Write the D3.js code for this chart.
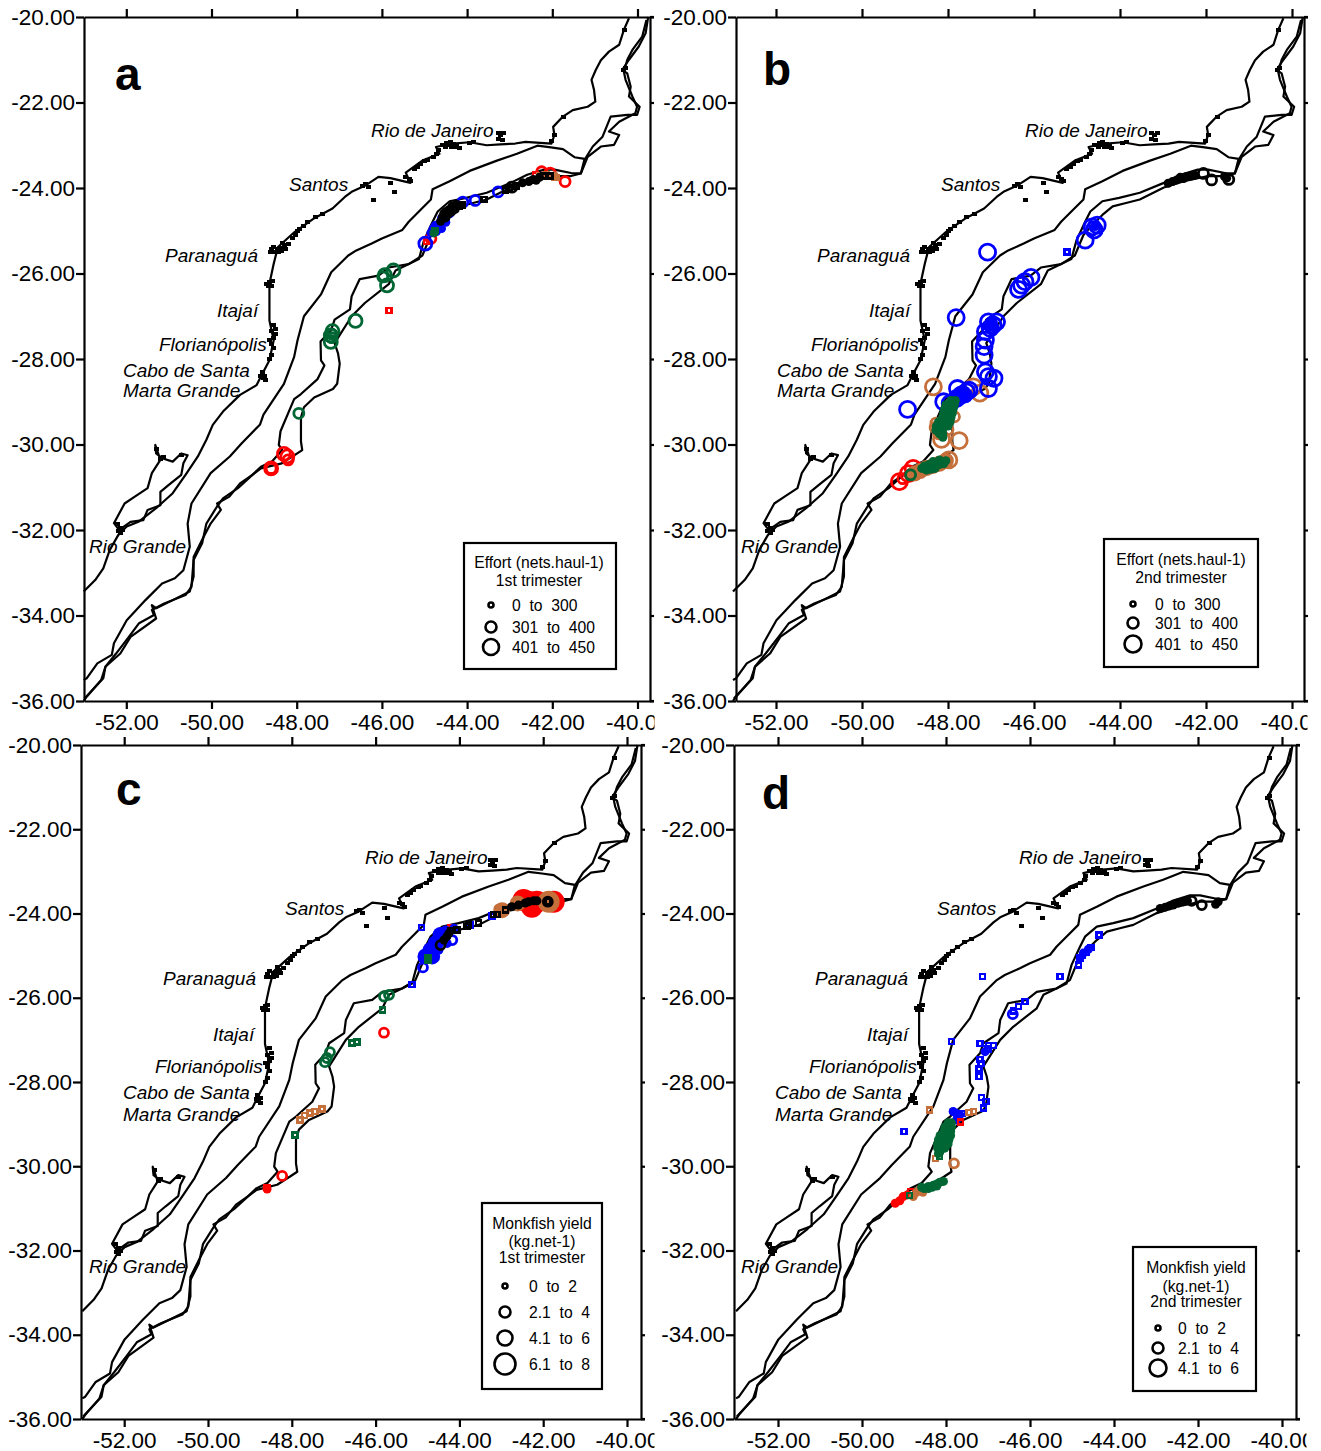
<!DOCTYPE html>
<html><head><meta charset="utf-8"><script src="https://cdn.jsdelivr.net/npm/d3@7"></script>
<style>html,body{margin:0;padding:0;background:#fff}svg{display:block}text{font-family:"Liberation Sans",Arial,sans-serif;fill:#000;white-space:pre}</style></head>
<body><svg id="c" width="1321" height="1451"></svg>
<script>
const lonTicks=[-52,-50,-48,-46,-44,-42,-40];
const latTicks=[-20,-22,-24,-26,-28,-30,-32,-34,-36];
const coast=[[-40.20,-20.03],[-40.32,-20.30],[-40.43,-20.65],[-40.67,-20.81],[-40.86,-21.01],[-40.98,-21.24],[-41.08,-21.47],[-41.02,-21.71],[-40.99,-21.98],[-41.17,-22.10],[-41.52,-22.18],[-41.75,-22.33],[-41.98,-22.57],[-41.95,-22.76],[-42.02,-22.96],[-42.63,-22.92],[-42.87,-22.96],[-43.22,-22.98],[-43.54,-23.0],[-43.94,-22.93],[-44.41,-22.97],[-44.73,-23.04],[-44.65,-23.20],[-45.05,-23.36],[-45.44,-23.64],[-45.33,-23.88],[-45.80,-23.77],[-46.08,-23.74],[-46.40,-23.95],[-46.71,-24.09],[-46.87,-24.21],[-47.16,-24.48],[-47.61,-24.72],[-48.05,-25.03],[-48.44,-25.38],[-48.54,-25.77],[-48.64,-26.24],[-48.64,-26.63],[-48.64,-27.10],[-48.54,-27.56],[-48.64,-28.03],[-48.84,-28.41],[-48.94,-28.61],[-49.33,-28.84],[-49.73,-29.23],[-49.97,-29.54],[-50.12,-29.89],[-50.32,-30.28],[-50.61,-30.71],[-50.91,-31.14],[-51.30,-31.49],[-51.70,-31.80],[-51.99,-31.92],[-52.19,-32.12],[-52.39,-32.47],[-52.54,-32.90],[-52.73,-33.17],[-53,-33.44]];
const lagoon=[[-52.14,-32.04],[-52.29,-31.84],[-52.04,-31.38],[-51.80,-31.22],[-51.50,-31.02],[-51.40,-30.67],[-51.20,-30.36],[-51.32,-30.01],[-51.30,-30.21],[-51.16,-30.32],[-50.91,-30.40],[-50.71,-30.21],[-50.56,-30.25],[-50.66,-30.44],[-50.71,-30.71],[-51.01,-30.95],[-51.20,-31.11],[-51.20,-31.42],[-51.50,-31.53],[-51.60,-31.77],[-51.90,-31.81],[-52.1,-31.95]];
const isoMiddle=[[-41.24,-23.32],[-41.48,-23.28],[-41.75,-23.09],[-42.03,-23.05],[-42.35,-23.01],[-42.83,-23.20],[-43.30,-23.36],[-43.94,-23.60],[-44.41,-23.84],[-44.81,-24.03],[-44.85,-24.27],[-45.09,-24.51],[-45.37,-24.79],[-45.52,-24.98],[-46.0,-25.18],[-46.24,-25.30],[-46.60,-25.46],[-46.79,-25.58],[-47.19,-25.97],[-47.43,-26.49],[-47.83,-27.0],[-47.98,-27.56],[-48.06,-27.95],[-48.30,-28.58],[-48.78,-29.30],[-48.86,-29.53],[-49.29,-29.97],[-49.57,-30.28],[-50.02,-30.67],[-50.47,-31.38],[-50.56,-31.85],[-50.51,-32.39],[-50.66,-32.94],[-50.86,-33.13],[-51.16,-33.25],[-51.55,-33.64],[-51.99,-34.11],[-52.29,-34.65],[-52.34,-34.92],[-52.68,-35.12],[-52.93,-35.47],[-53,-35.51]];
const isoInner=[[-39.79,-20.07],[-39.89,-20.46],[-40.12,-20.77],[-40.24,-21.0],[-40.32,-21.28],[-40.28,-21.47],[-40.12,-21.86],[-40.01,-22.10],[-40.05,-22.25],[-40.43,-22.45],[-40.67,-22.68],[-40.43,-22.76],[-40.55,-22.99],[-40.86,-23.03],[-41.17,-23.27],[-41.33,-23.66],[-41.56,-23.65],[-41.95,-23.57],[-42.19,-23.57],[-42.59,-23.69],[-42.98,-23.88],[-43.54,-24.11],[-44.02,-24.23],[-44.41,-24.31],[-44.69,-24.55],[-44.81,-24.79],[-45.01,-25.22],[-45.13,-25.66],[-45.37,-25.78],[-45.84,-25.86],[-46.08,-26.05],[-46.52,-26.13],[-46.71,-26.53],[-46.75,-26.84],[-47.11,-27.08],[-47.19,-27.32],[-47.44,-27.59],[-47.43,-28.03],[-47.35,-28.15],[-47.51,-28.47],[-47.90,-28.82],[-48.06,-28.94],[-48.38,-29.69],[-48.42,-30.01],[-48.34,-30.13],[-48.58,-30.40],[-48.84,-30.52],[-49.04,-30.71],[-49.38,-31.02],[-49.73,-31.26],[-49.87,-31.45],[-50.12,-31.85],[-50.22,-32.31],[-50.42,-32.70],[-50.47,-33.33],[-50.61,-33.52],[-51.11,-33.72],[-51.40,-33.87],[-51.35,-33.99],[-51.70,-34.18],[-51.94,-34.50],[-52.24,-34.89],[-52.49,-35.20],[-52.54,-35.47],[-52.98,-35.94]];
const isoOuter=[[-39.75,-20],[-39.81,-20.38],[-39.97,-20.69],[-40.20,-21.0],[-40.36,-21.24],[-40.24,-21.32],[-40.16,-21.63],[-40.20,-21.86],[-39.95,-22.10],[-40.01,-22.29],[-40.24,-22.29],[-40.63,-22.33],[-40.82,-22.80],[-41.05,-23.03],[-41.25,-23.35],[-41.33,-23.66],[-41.56,-23.72],[-41.95,-23.72],[-42.51,-23.84],[-42.98,-23.99],[-43.54,-24.27],[-43.86,-24.35],[-44.17,-24.43],[-44.41,-24.63],[-44.65,-24.87],[-44.85,-25.10],[-45.05,-25.58],[-45.37,-25.78],[-45.68,-25.93],[-45.84,-26.25],[-46.40,-26.69],[-46.71,-27.0],[-47.11,-27.63],[-47.03,-27.87],[-46.99,-28.11],[-47.05,-28.58],[-47.15,-28.70],[-47.59,-28.90],[-47.83,-29.13],[-47.90,-29.37],[-47.90,-29.93],[-47.87,-30.13],[-48.05,-30.25],[-48.35,-30.44],[-48.84,-30.56],[-49.04,-30.71],[-49.33,-30.91],[-49.58,-31.22],[-49.87,-31.38],[-49.78,-31.53],[-50.02,-31.85],[-50.22,-32.23],[-50.42,-32.63],[-50.42,-33.09],[-50.51,-33.44],[-50.91,-33.64],[-51.30,-33.83],[-51.40,-33.76],[-51.30,-34.07],[-51.90,-34.50],[-52.14,-34.89],[-52.49,-35.20],[-52.59,-35.51],[-52.93,-35.90],[-53,-36]];
const coastSpeckles=[[-43.22,-22.77],[-43.15,-22.72],[-43.27,-22.85],[-43.18,-22.88],[-43.27,-22.72],[-44.41,-22.93],[-44.33,-22.97],[-44.25,-23.0],[-44.45,-23.0],[-44.3,-23.05],[-44.2,-23.07],[-44.38,-23.05],[-44.5,-22.95],[-44.52,-23.05],[-44.6,-23.0],[-43.85,-22.93],[-43.95,-22.95],[-44.68,-23.12],[-44.72,-23.2],[-44.8,-23.28],[-44.93,-23.35],[-45.0,-23.38],[-45.1,-23.45],[-45.17,-23.51],[-45.25,-23.56],[-45.37,-23.78],[-45.45,-23.75],[-45.33,-23.84],[-46.4,-23.91],[-46.33,-23.98],[-46.47,-23.95],[-45.72,-24.10],[-46.22,-24.29],[-45.8,-23.88],[-48.46,-25.42],[-48.6,-25.43],[-48.55,-25.37],[-48.4,-25.4],[-48.3,-25.34],[-48.45,-25.5],[-48.52,-25.5],[-48.35,-25.28],[-48.62,-25.5],[-48.38,-25.48],[-48.28,-25.42],[-48.2,-25.3],[-48.12,-25.18],[-48.0,-25.0],[-48.05,-25.1],[-47.95,-24.95],[-47.85,-24.88],[-47.75,-24.8],[-47.58,-24.67],[-47.4,-24.6],[-48.72,-26.25],[-48.65,-26.2],[-48.6,-26.3],[-48.68,-26.3],[-48.58,-26.18],[-48.55,-27.2],[-48.5,-27.3],[-48.6,-27.35],[-48.55,-27.5],[-48.6,-27.65],[-48.55,-27.75],[-48.6,-27.9],[-48.65,-28.0],[-48.5,-27.42],[-48.65,-27.55],[-48.77,-28.39],[-48.8,-28.45],[-48.75,-28.5],[-48.82,-28.3],[-48.85,-28.4],[-52.15,-31.95],[-52.2,-32.03],[-52.15,-32.08],[-52.1,-32.0],[-52.22,-31.85],[-51.2,-30.35],[-51.15,-30.3],[-50.72,-30.25],[-51.3,-30.1],[-40.32,-20.3],[-40.35,-21.25],[-40.3,-21.2],[-41.95,-22.75],[-42.03,-22.9],[-41.75,-22.33]];

const aRed=[[-41.7,-23.85,1],[-42.25,-23.62,1],[-42.05,-23.65,1],[-42.4,-23.7,0],[-44.85,-25.18,1],[-44.95,-25.25,0],[-45.83,-26.86,0],[-48.3,-30.22,2],[-48.22,-30.28,2],[-48.2,-30.36,1],[-48.6,-30.56,2],[-48.6,-30.56,1]];
const aBrown=[[-42.3,-23.72,0],[-42.15,-23.7,0],[-41.95,-23.72,4],[-41.95,-23.76,0],[-41.9,-23.75,0]];
const aGreen=[[-45.93,-26.04,2],[-45.73,-25.93,2],[-45.88,-26.28,2],[-45.98,-26.08,1],[-46.62,-27.11,2],[-47.16,-27.35,2],[-47.2,-27.45,2],[-47.18,-27.5,1],[-47.2,-27.6,2],[-47.17,-27.42,1],[-47.95,-29.27,1]];
const aBlue=[[-43.81,-24.29,1],[-44.1,-24.33,1],[-43.27,-24.09,1],[-44.98,-25.3,2],[-44.8,-24.95,4],[-44.75,-24.88,4],[-44.7,-24.95,4],[-44.65,-24.82,4],[-44.6,-24.95,4],[-44.5,-24.8,4],[-44.6,-24.7,4],[-44.85,-25.05,4],[-44.4,-24.6,4],[-44.72,-25.02,4]];
const aGreenTop=[[-44.78,-25.05,4],[-44.75,-25.0,0]];
const aBlack=[[-44.62,-24.78,4],[-44.58,-24.68,4],[-44.55,-24.6,4],[-44.5,-24.7,4],[-44.5,-24.55,4],[-44.45,-24.62,4],[-44.42,-24.5,4],[-44.36,-24.56,4],[-44.35,-24.42,4],[-44.28,-24.5,4],[-44.25,-24.38,4],[-44.18,-24.42,0],[-44.12,-24.4,0],[-43.6,-24.27,0],[-43.1,-24.05,0],[-43.0,-24.0,0],[-42.95,-23.98,1],[-42.85,-23.95,0],[-42.7,-23.88,4],[-42.55,-23.85,4],[-42.45,-23.8,4],[-42.3,-23.75,4],[-42.2,-23.72,0],[-42.05,-23.72,0],[-42.38,-23.82,4]];

const bRed=[[-49.13,-30.87,2],[-48.92,-30.68,2],[-48.81,-30.56,2],[-49.05,-30.8,1],[-48.1,-29.3,0]];
const bBrown=[[-48.05,-30.38,6],[-48.2,-30.45,6],[-48.35,-30.5,6],[-48.5,-30.55,6],[-48.65,-30.62,6],[-48.78,-30.68,6],[-47.98,-30.36,2],[-48.15,-29.88,2],[-47.74,-29.91,2],[-48.34,-28.65,2],[-47.41,-28.65,2],[-47.26,-28.8,2],[-48.28,-29.5,1],[-48.3,-29.6,1],[-48.22,-29.75,1],[-47.85,-29.35,1],[-48.0,-29.65,1]];
const bBlue=[[-47.08,-25.5,2],[-46.07,-26.09,2],[-46.21,-26.19,2],[-46.29,-26.27,2],[-46.36,-26.37,2],[-47.81,-27.03,2],[-46.87,-27.13,2],[-46.95,-27.2,2],[-47.06,-27.13,2],[-47.02,-27.28,2],[-47.13,-27.36,2],[-47.13,-27.56,2],[-47.16,-27.71,2],[-47.16,-27.91,2],[-47.13,-28.3,2],[-46.93,-28.45,2],[-47.06,-28.41,2],[-47.06,-28.69,2],[-47.78,-28.69,2],[-48.94,-29.18,2],[-47.57,-28.77,2],[-47.69,-28.84,2],[-47.8,-28.92,2],[-47.95,-29.04,2],[-47.51,-28.73,2],[-47.6,-28.85,6],[-47.7,-28.75,4],[-47.55,-28.85,4],[-47.65,-28.8,6],[-47.75,-28.88,4],[-48.1,-29.0,2],[-46.95,-27.25,4],[-47.0,-27.1,4],[-47.02,-27.2,4],[-44.65,-24.91,2],[-44.81,-25.22,2],[-44.53,-24.87,2],[-44.6,-24.98,2],[-44.58,-24.9,4],[-45.23,-25.5,0]];
const bBlack=[[-42.88,-23.89,4],[-42.78,-23.85,4],[-42.68,-23.81,4],[-42.6,-23.75,4],[-42.52,-23.78,4],[-42.45,-23.73,4],[-42.35,-23.72,4],[-42.26,-23.7,4],[-42.06,-23.66,1],[-41.87,-23.81,1],[-41.52,-23.77,4],[-41.57,-23.73,4],[-41.47,-23.8,1]];
const bGreen=[[-47.83,-28.97,4],[-47.93,-28.97,4],[-47.85,-29.07,4],[-47.95,-29.07,4],[-48.05,-29.07,4],[-47.88,-29.17,4],[-47.98,-29.17,4],[-48.08,-29.17,4],[-47.90,-29.27,4],[-48.0,-29.27,4],[-48.10,-29.27,4],[-47.93,-29.37,4],[-48.03,-29.37,4],[-48.13,-29.37,4],[-47.95,-29.47,4],[-48.05,-29.47,4],[-48.15,-29.47,4],[-48.22,-29.47,4],[-48.0,-29.57,4],[-48.10,-29.57,4],[-48.2,-29.57,4],[-48.27,-29.57,4],[-48.13,-29.67,4],[-48.22,-29.67,4],[-48.28,-29.67,4],[-48.12,-29.75,4],[-48.2,-29.75,4],[-48.12,-29.83,4],[-48.61,-30.56,4],[-48.5,-30.54,4],[-48.4,-30.52,4],[-48.3,-30.5,4],[-48.2,-30.47,4],[-48.1,-30.45,4],[-48.55,-30.5,4],[-48.45,-30.47,4],[-48.35,-30.45,4],[-48.25,-30.42,4],[-48.15,-30.4,4],[-48.05,-30.38,4],[-48.2,-30.36,4],[-48.35,-30.4,4],[-48.4,-30.58,4],[-48.3,-30.56,4],[-48.5,-30.6,4],[-48.87,-30.71,1]];

const cRed=[[-42.35,-23.72,5],[-42.47,-23.68,5],[-42.15,-23.72,5],[-42.27,-23.84,5],[-41.75,-23.72,5],[-45.8,-26.83,1],[-48.23,-30.23,1],[-48.59,-30.54,4],[-48.59,-30.5,0],[-44.2,-24.33,0]];
const cBrown=[[-41.87,-23.72,5],[-42.98,-23.92,6],[-43.05,-23.9,1],[-42.61,-23.76,6],[-47.8,-28.9,0],[-47.57,-28.74,0],[-47.7,-28.8,0],[-47.28,-28.64,0],[-47.45,-28.7,0]];
const cGreen=[[-45.8,-25.97,1],[-45.68,-25.93,1],[-45.83,-26.29,0],[-47.16,-27.43,1],[-47.21,-27.53,1],[-47.09,-27.29,1],[-46.56,-27.07,0],[-46.44,-27.05,0],[-47.92,-29.26,0]];
const cBlue=[[-44.81,-25.02,6],[-44.69,-24.87,6],[-44.57,-24.71,6],[-44.45,-24.51,6],[-44.33,-24.39,4],[-44.13,-24.35,4],[-44.65,-25.02,6],[-44.49,-24.87,4],[-44.29,-24.71,4],[-44.17,-24.63,1],[-44.75,-24.9,4],[-44.6,-24.85,4],[-44.5,-24.7,4],[-44.4,-24.6,4],[-44.55,-24.6,4],[-44.85,-25.1,4],[-44.87,-25.28,1],[-44.91,-24.33,0],[-45.13,-25.68,0],[-43.22,-24.06,0],[-43.75,-24.27,0]];
const cGreenTop=[[-44.75,-25.06,0],[-44.75,-25.12,0]];
const cBlack=[[-43.18,-24.03,0],[-43.1,-24.03,0],[-42.9,-23.92,0],[-42.75,-23.84,4],[-42.59,-23.8,4],[-42.43,-23.75,4],[-42.35,-23.72,4],[-42.23,-23.7,4],[-42.15,-23.7,4],[-41.89,-23.72,1],[-41.89,-23.72,0],[-43.78,-24.27,0],[-43.54,-24.23,0],[-44.45,-24.75,1],[-44.37,-24.63,4],[-44.25,-24.47,4],[-44.3,-24.55,4],[-44.06,-24.39,0],[-43.82,-24.31,0],[-44.2,-24.4,0]];

const dBlue=[[-47.13,-25.5,0],[-45.29,-25.5,0],[-44.36,-24.51,0],[-44.61,-24.85,4],[-44.55,-24.8,0],[-44.73,-24.94,4],[-44.65,-24.92,0],[-44.81,-25.06,0],[-44.75,-25.0,0],[-44.85,-25.22,0],[-46.12,-26.09,0],[-46.28,-26.21,0],[-46.4,-26.31,0],[-46.41,-26.39,1],[-47.87,-27.04,0],[-47.19,-27.09,0],[-46.99,-27.14,0],[-46.87,-27.14,0],[-47.07,-27.28,4],[-47.0,-27.22,0],[-47.19,-27.47,0],[-47.17,-27.56,0],[-47.21,-27.69,0],[-47.21,-27.87,0],[-47.15,-28.37,0],[-47.05,-28.46,0],[-47.11,-28.62,0],[-49,-29.18,0],[-47.83,-28.7,4],[-47.67,-28.78,4],[-47.75,-28.9,4],[-47.6,-28.75,0],[-47.75,-28.75,4]];
const dRed=[[-49.21,-30.88,4],[-49.1,-30.82,4],[-49.02,-30.72,4],[-48.92,-30.68,4],[-48.85,-30.6,0],[-47.65,-28.95,0]];
const dBrown=[[-48.4,-28.66,0],[-47.35,-28.7,0],[-47.45,-28.72,0],[-47.81,-29.93,1],[-48.78,-30.72,4],[-48.7,-30.62,4],[-48.62,-30.55,4],[-48.55,-30.62,4],[-48.25,-29.82,0]];
const dGreen=[[-47.87,-28.97,4],[-47.95,-28.97,4],[-47.87,-29.07,4],[-47.95,-29.07,4],[-48.03,-29.07,4],[-47.89,-29.17,4],[-47.97,-29.17,4],[-48.05,-29.17,4],[-47.89,-29.27,4],[-47.97,-29.27,4],[-48.07,-29.27,4],[-48.14,-29.27,4],[-47.93,-29.37,4],[-48.03,-29.37,4],[-48.13,-29.37,4],[-48.18,-29.37,4],[-47.95,-29.47,4],[-48.05,-29.47,4],[-48.15,-29.47,4],[-48.2,-29.47,4],[-48.03,-29.57,4],[-48.13,-29.57,4],[-48.2,-29.57,4],[-48.15,-29.67,4],[-48.18,-29.7,4],[-48.15,-29.77,0],[-48.06,-30.36,4],[-48.15,-30.38,4],[-48.22,-30.42,4],[-48.3,-30.45,4],[-48.22,-30.47,4],[-48.33,-30.5,4],[-48.42,-30.48,4],[-48.42,-30.53,4],[-48.52,-30.53,4],[-48.58,-30.5,4],[-48.87,-30.7,0]];
const dBlack=[[-42.9,-23.88,4],[-42.78,-23.85,4],[-42.68,-23.82,4],[-42.59,-23.8,4],[-42.47,-23.75,4],[-42.35,-23.72,4],[-42.25,-23.7,4],[-42.15,-23.7,1],[-41.91,-23.8,1],[-41.52,-23.72,4],[-41.58,-23.78,4]];

const BLACK="#000",BLUE="#0000ff",GREEN="#006633",RED="#ff0000",BROWN="#c56f3a";
const SOLID={4:4.5,5:11,6:8};
const panels=[
{letter:"a",lx:115,ly:90,left:84,right:650,top:17,bottom:701,lon40:637.5,pxDeg:42.6,clip:654,radii:[2.5,5,6.5],
 layers:[[aRed,RED],[aBrown,BROWN],[aGreen,GREEN],[aBlue,BLUE],[aGreenTop,GREEN],[aBlack,BLACK]],
 cities:[["Rio de Janeiro",371,137],["Santos",289,191],["Paranaguá",165,262],["Itajaí",217,317],["Florianópolis",159,351],["Cabo de Santa",123,377],["Marta Grande",123,397],["Rio Grande",89,553]],
 box:[464,543,616,669],cx:539,titleLines:[["Effort (nets.haul-1)",568],["1st trimester",586]],sx:491,tx:512,rows:[["0  to  300",605,0],["301  to  400",627,1],["401  to  450",647,2]],legR:[2.5,5.5,8]},
{letter:"b",lx:763,ly:85,left:736,right:1304,top:17,bottom:701,lon40:1292,pxDeg:43,clip:1307,radii:[2.5,5,8],
 layers:[[bRed,RED],[bBrown,BROWN],[bBlue,BLUE],[bBlack,BLACK],[bGreen,GREEN]],
 cities:[["Rio de Janeiro",1025,137],["Santos",941,191],["Paranaguá",817,262],["Itajaí",869,317],["Florianópolis",811,351],["Cabo de Santa",777,377],["Marta Grande",777,397],["Rio Grande",741,553]],
 box:[1104,539,1258,667],cx:1181,titleLines:[["Effort (nets.haul-1)",565],["2nd trimester",583]],sx:1133,tx:1155,rows:[["0  to  300",604,0],["301  to  400",623,1],["401  to  450",644,2]],legR:[2.5,5.5,8.5]},
{letter:"c",lx:116,ly:805,left:81,right:641,top:745,bottom:1419,lon40:627,pxDeg:41.9,clip:654,radii:[2.5,4.5,6.5,10.5],
 layers:[[cRed,RED],[cBrown,BROWN],[cGreen,GREEN],[cBlue,BLUE],[cGreenTop,GREEN],[cBlack,BLACK]],
 cities:[["Rio de Janeiro",365,864],["Santos",285,915],["Paranaguá",163,985],["Itajaí",213,1041],["Florianópolis",155,1073],["Cabo de Santa",123,1099],["Marta Grande",123,1121],["Rio Grande",89,1273]],
 box:[482,1203,602,1389],cx:542,titleLines:[["Monkfish yield",1229],["(kg.net-1)",1247],["1st trimester",1263]],sx:505,tx:529,rows:[["0  to  2",1286,0],["2.1  to  4",1312,1],["4.1  to  6",1338,2],["6.1  to  8",1364,3]],legR:[2.5,5.5,7.5,10.5]},
{letter:"d",lx:762,ly:809,left:734,right:1296,top:745,bottom:1419,lon40:1282,pxDeg:42,clip:1306,radii:[2.5,4.5,7.5],
 layers:[[dBlue,BLUE],[dRed,RED],[dBrown,BROWN],[dBlack,BLACK],[dGreen,GREEN]],
 cities:[["Rio de Janeiro",1019,864],["Santos",937,915],["Paranaguá",815,985],["Itajaí",867,1041],["Florianópolis",809,1073],["Cabo de Santa",775,1099],["Marta Grande",775,1121],["Rio Grande",741,1273]],
 box:[1133,1247,1256,1391],cx:1196,titleLines:[["Monkfish yield",1273],["(kg.net-1)",1292],["2nd trimester",1307]],sx:1158,tx:1178,rows:[["0  to  2",1328,0],["2.1  to  4",1348,1],["4.1  to  6",1368,2]],legR:[2.5,5.5,8.5]}
];
const svg=d3.select("#c");
const defs=svg.append("defs");
panels.forEach((p,i)=>{
  const lonLeft=-40+(p.left-p.lon40)/p.pxDeg, lonRight=-40+(p.right-p.lon40)/p.pxDeg;
  const x=d3.scaleLinear().domain([lonLeft,lonRight]).range([p.left,p.right]);
  const y=d3.scaleLinear().domain([-20,-36]).range([p.top,p.bottom]);
  const g=svg.append("g");
  defs.append("clipPath").attr("id","cl"+i).append("rect").attr("x",-45).attr("y",0).attr("width",p.clip-x(-40)+45).attr("height",50);
  const line=d3.line().x(d=>x(d[0])).y(d=>y(d[1]));
  [coast,lagoon,isoMiddle,isoInner,isoOuter].forEach(l=>g.append("path").attr("d",line(l)).attr("fill","none").attr("stroke","#000").attr("stroke-width",2.2).attr("stroke-linejoin","round"));
  g.append("g").selectAll("rect").data(coastSpeckles).join("rect").attr("x",d=>Math.round(x(d[0]))-2).attr("y",d=>Math.round(y(d[1]))-2).attr("width",5).attr("height",4).attr("fill","#000").attr("shape-rendering","crispEdges");
  const sq=d3.symbol().type(d3.symbolSquare).size(25);
  p.layers.forEach(([arr,col])=>{
    const lg=g.append("g");
    lg.selectAll("path.s").data(arr.filter(d=>d[2]===0)).join("path").attr("class","s").attr("d",sq).attr("transform",d=>`translate(${x(d[0])},${y(d[1])})`).attr("shape-rendering","crispEdges").attr("fill","none").attr("stroke",col).attr("stroke-width",2.4);
    lg.selectAll("circle.r").data(arr.filter(d=>d[2]>0&&d[2]<4)).join("circle").attr("class","r").attr("cx",d=>x(d[0])).attr("cy",d=>y(d[1])).attr("r",d=>p.radii[d[2]]).attr("fill","none").attr("stroke",col).attr("stroke-width",2.8);
    lg.selectAll("circle.f").data(arr.filter(d=>d[2]>=4)).join("circle").attr("class","f").attr("cx",d=>x(d[0])).attr("cy",d=>y(d[1])).attr("r",d=>SOLID[d[2]]).attr("fill",col);
  });
  const axes=g.append("g");
  const st=s=>{s.selectAll("path,line").attr("stroke","#000").attr("stroke-width",2.2);s.selectAll("text").attr("font-family","Liberation Sans").attr("font-size",22.5).attr("fill","#000");};
  const bottomAxis=axes.append("g").attr("transform",`translate(0,${p.bottom})`)
    .call(d3.axisBottom(x).tickValues(lonTicks).tickFormat(d=>d.toFixed(2)).tickSize(8).tickSizeOuter(0).tickPadding(5)).call(st);
  bottomAxis.selectAll(".tick").filter(d=>d===-40).select("text").attr("clip-path",`url(#cl${i})`);
  axes.append("g").attr("transform",`translate(0,${p.top})`).call(d3.axisTop(x).tickValues(lonTicks).tickFormat("").tickSize(8).tickSizeOuter(0)).call(st);
  axes.append("g").attr("transform",`translate(${p.left},0)`).call(d3.axisLeft(y).tickValues(latTicks).tickFormat(d=>d.toFixed(2)).tickSize(8).tickSizeOuter(0).tickPadding(1)).call(st);
  axes.append("g").attr("transform",`translate(${p.right},0)`).call(d3.axisRight(y).tickValues(latTicks).tickFormat("").tickSize(4).tickSizeOuter(0)).call(st);
  [p.top,p.bottom].forEach(v=>axes.append("line").attr("x1",p.right).attr("x2",p.right+4).attr("y1",v).attr("y2",v).attr("stroke","#000").attr("stroke-width",2.2));
  p.cities.forEach(c=>g.append("text").text(c[0]).attr("x",c[1]).attr("y",c[2]).attr("font-size",19).attr("font-style","italic").attr("fill","#1a1a1a"));
  g.append("text").text(p.letter).attr("x",p.lx).attr("y",p.ly).attr("font-size",46).attr("font-weight","bold");
  const [bx0,by0,bx1,by1]=p.box;
  g.append("rect").attr("x",bx0).attr("y",by0).attr("width",bx1-bx0).attr("height",by1-by0).attr("fill","#fff").attr("stroke","#000").attr("stroke-width",2.2);
  p.titleLines.forEach(t=>g.append("text").text(t[0]).attr("x",p.cx).attr("y",t[1]).attr("text-anchor","middle").attr("font-size",15.7));
  p.rows.forEach(r=>{
    g.append("text").text(r[0]).attr("x",p.tx).attr("y",r[1]+5.5).attr("font-size",15.7);
    g.append("circle").attr("cx",p.sx).attr("cy",r[1]).attr("r",p.legR[r[2]]).attr("fill","none").attr("stroke","#000").attr("stroke-width",2.6);
  });
});
</script></body></html>
